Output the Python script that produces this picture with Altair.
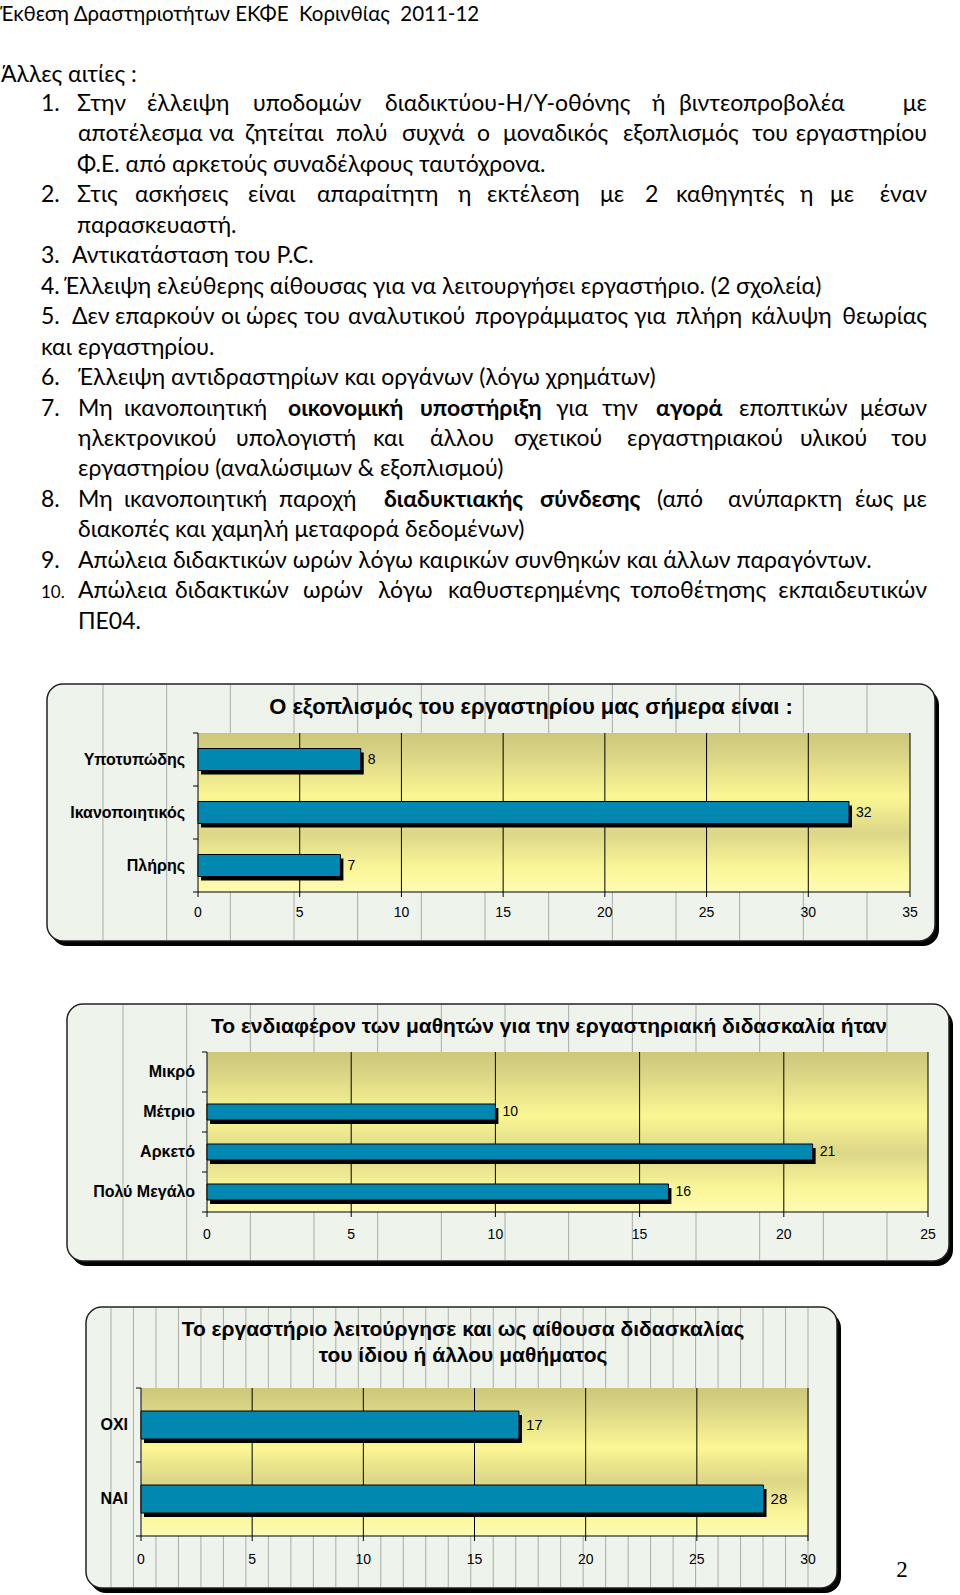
import altair as alt
import pandas as pd

W, H = 960, 1595

# ---------------- data ----------------
header_text = "Έκθεση Δραστηριοτήτων ΕΚΦΕ\u00a0 Κορινθίας\u00a0 2011-12"

doc_numbers = ["", "1.", "", "", "2.", "", "3.", "4.", "5.", "", "6.", "7.", "", "", "8.", "", "9.", "10.", ""]
doc_lines = [
    "Άλλες αιτίες :",
    "Στην έλλειψη υποδομών διαδικτύου-Η/Υ-οθόνης ή βιντεοπροβολέα με",
    "αποτέλεσμα να ζητείται πολύ συχνά ο μοναδικός εξοπλισμός του εργαστηρίου",
    "Φ.Ε. από αρκετούς συναδέλφους ταυτόχρονα.",
    "Στις ασκήσεις είναι απαραίτητη η εκτέλεση με 2 καθηγητές η με έναν",
    "παρασκευαστή.",
    "Αντικατάσταση του P.C.",
    "Έλλειψη ελεύθερης αίθουσας για να λειτουργήσει εργαστήριο. (2 σχολεία)",
    "Δεν επαρκούν οι ώρες του αναλυτικού προγράμματος για πλήρη κάλυψη θεωρίας",
    "και εργαστηρίου.",
    "Έλλειψη αντιδραστηρίων και οργάνων (λόγω χρημάτων)",
    "Μη ικανοποιητική *οικονομική *υποστήριξη για την *αγορά εποπτικών μέσων",
    "ηλεκτρονικού υπολογιστή και άλλου σχετικού εργαστηριακού υλικού του",
    "εργαστηρίου (αναλώσιμων & εξοπλισμού)",
    "Μη ικανοποιητική παροχή *διαδυκτιακής *σύνδεσης (από ανύπαρκτη έως με",
    "διακοπές και χαμηλή μεταφορά δεδομένων)",
    "Απώλεια διδακτικών ωρών λόγω καιρικών συνθηκών και άλλων παραγόντων.",
    "Απώλεια διδακτικών ωρών λόγω καθυστερημένης τοποθέτησης εκπαιδευτικών",
    "ΠΕ04.",
]

c1_title = ["Ο εξοπλισμός του εργαστηρίου μας σήμερα είναι :"]
c1_cats = ["Υποτυπώδης", "Ικανοποιητικός", "Πλήρης"]
c1_vals = [8, 32, 7]
c1_ticks = [0, 5, 10, 15, 20, 25, 30, 35]

c2_title = ["Το ενδιαφέρον των μαθητών για την εργαστηριακή διδασκαλία ήταν"]
c2_cats = ["Μικρό", "Μέτριο", "Αρκετό", "Πολύ Μεγάλο"]
c2_vals = [None, 10, 21, 16]
c2_ticks = [0, 5, 10, 15, 20, 25]

c3_title = ["Το εργαστήριο λειτούργησε και ως αίθουσα διδασκαλίας", "του ίδιου ή άλλου μαθήματος"]
c3_cats = ["ΟΧΙ", "ΝΑΙ"]
c3_vals = [17, 28]
c3_ticks = [0, 5, 10, 15, 20, 25, 30]

page_number = "2"

# ---------------- layout / style ----------------
DOC_FONT = "Lato"
CH_FONT = "Liberation Sans"
DOC_SIZE = 23
RIGHT = 927
R = "R"
doc_x = [
    [1],
    [77, 147, 253, 385, 652, 679, R],
    [78, 209, 245, 336, 402, 477, 503, 623, 752, R],
    [77],
    [77, 135, 248, 317, 458, 487, 600, 645, 676, 800, 830, R],
    [77],
    [72],
    [64],
    [72, 115, 221, 246, 304, 348, 475, 634, 676, 751, R],
    [41],
    [78],
    [78, 124, 288, 420, 556, 602, 656, 739, R],
    [78, 236, 373, 430, 514, 627, 800, R],
    [78],
    [78, 124, 279, 384, 540, 657, 728, 855, R],
    [78],
    [78],
    [78, 175, 303, 378, 448, 630, R],
    [78],
]

BAR = "#0088b0"
FRAME_FILL = "#eef3ec"
TEX = "#a9ada6"
PLOT_GRAD = alt.LinearGradient(
    gradient="linear",
    stops=[
        alt.GradientStop(color="#cdc77a", offset=0),
        alt.GradientStop(color="#d8d284", offset=0.12),
        alt.GradientStop(color="#fbf793", offset=0.4),
        alt.GradientStop(color="#dcd687", offset=0.63),
        alt.GradientStop(color="#fbf799", offset=0.86),
        alt.GradientStop(color="#fdfbb4", offset=1),
    ],
    x1=0, x2=0, y1=0, y2=1,
)


def txt(s, x, y, size, font=DOC_FONT, bold=False, align="left", baseline="alphabetic", color="black"):
    return alt.Chart().mark_text(
        text=s, align=align, baseline=baseline, font=font, fontSize=size,
        fontWeight="bold" if bold else "normal", color=color,
    ).encode(x=alt.value(x), y=alt.value(y))


def hrule(x0, x1, y, color="black"):
    return alt.Chart().mark_rule(color=color, strokeWidth=1).encode(
        x=alt.value(x0), x2=alt.value(x1), y=alt.value(y))


def vrule(x, y0, y1, color="black"):
    return alt.Chart().mark_rule(color=color, strokeWidth=1).encode(
        x=alt.value(x), y=alt.value(y0), y2=alt.value(y1))


layers = []

# header
layers.append(txt(header_text, 0, 21, 20.5))

# document body
for i, (num, line) in enumerate(zip(doc_numbers, doc_lines)):
    yb = 82 if i == 0 else 111 + 30.45 * (i - 1)
    if num:
        layers.append(txt(num, 41, yb, 17 if len(num) > 2 else DOC_SIZE))
    xs = doc_x[i]
    if len(xs) == 1:
        layers.append(txt(line.replace("*", ""), xs[0], yb, DOC_SIZE))
    else:
        words = line.split(" ")
        for w, x in zip(words, xs):
            bold = w.startswith("*")
            w = w.lstrip("*")
            if x == R:
                layers.append(txt(w, RIGHT, yb, DOC_SIZE, bold=bold, align="right"))
            else:
                layers.append(txt(w, x, yb, DOC_SIZE, bold=bold))


def panel(cats, vals, ticks, title, frame, plot, bar_size, lab_size, title_size, title_x,
          title_y, xlab_y, lab_gap, tex, val_size=14, shadow=(4, 5)):
    fx0, fy0, fx1, fy1 = frame
    px0, py0, px1, py1 = plot
    out = []
    # frame shadow + frame
    out.append(alt.Chart().mark_rect(fill="black", cornerRadius=16).encode(
        x=alt.value(fx0 + shadow[0]), x2=alt.value(fx1 + shadow[0]),
        y=alt.value(fy0 + shadow[1]), y2=alt.value(fy1 + shadow[1])))
    out.append(alt.Chart().mark_rect(fill=FRAME_FILL, stroke="#222222", strokeWidth=1.5,
                                     cornerRadius=16).encode(
        x=alt.value(fx0), x2=alt.value(fx1), y=alt.value(fy0), y2=alt.value(fy1)))
    # paper texture lines
    t0, t1, tn = tex
    out.append(alt.Chart(pd.DataFrame({"i": list(range(tn))})).mark_rule(
        color=TEX, strokeWidth=1).encode(
        x=alt.X("i:Q", scale=alt.Scale(domain=[0, tn - 1], range=[t0, t1], nice=False, zero=False),
                axis=None),
        y=alt.value(fy0 + 1), y2=alt.value(fy1 - 1)))
    # title
    for k, tl in enumerate(title):
        out.append(txt(tl, title_x, title_y[k], title_size, font=CH_FONT, bold=True, align="center"))

    df = pd.DataFrame({"cat": cats, "v": vals})
    tdf = pd.DataFrame({"t": ticks})
    xsc = alt.Scale(domain=[ticks[0], ticks[-1]], range=[px0, px1], nice=False, zero=True)
    ysc = alt.Scale(domain=cats, range=[py0, py1], paddingInner=0, paddingOuter=0)

    bg = alt.Chart().mark_rect(fill=PLOT_GRAD).encode(
        x=alt.value(px0), x2=alt.value(px1), y=alt.value(py0), y2=alt.value(py1))
    grid = alt.Chart(pd.DataFrame({"t": ticks[1:]})).mark_rule(color="black", strokeWidth=1).encode(
        x=alt.X("t:Q", scale=xsc, axis=None), y=alt.value(py0), y2=alt.value(py1))
    # axis: ticks, labels, domain lines
    xticks = alt.Chart(tdf).mark_rule(color="black", strokeWidth=1).encode(
        x=alt.X("t:Q", scale=xsc, axis=None), y=alt.value(py1), y2=alt.value(py1 + 5))
    xlabels = alt.Chart(tdf).mark_text(align="center", baseline="middle", font=CH_FONT,
                                       fontSize=14, color="black").encode(
        x=alt.X("t:Q", scale=xsc, axis=None), y=alt.value(xlab_y), text=alt.Text("t:Q", format="d"))
    cat_ticks = alt.Chart(df).mark_rule(color="black", strokeWidth=1).encode(
        y=alt.Y("cat:N", scale=ysc, axis=None, bandPosition=0),
        x=alt.value(px0 - 5), x2=alt.value(px0))
    cat_labels = alt.Chart(df).mark_text(align="right", baseline="middle", font=CH_FONT,
                                         fontSize=lab_size, fontWeight="bold", color="black").encode(
        y=alt.Y("cat:N", scale=ysc, axis=None), x=alt.value(px0 - lab_gap), text="cat:N")
    valid = df[df["v"].notna()]
    shadow_bars = alt.Chart(valid).mark_bar(
        size=bar_size, color="black", xOffset=3, x2Offset=3, yOffset=4, y2Offset=4).encode(
        x=alt.X("v:Q", scale=xsc, axis=None), y=alt.Y("cat:N", scale=ysc, axis=None))
    bars = alt.Chart(valid).mark_bar(size=bar_size, color=BAR, stroke="black", strokeWidth=1).encode(
        x=alt.X("v:Q", scale=xsc, axis=None), y=alt.Y("cat:N", scale=ysc, axis=None))
    labels = alt.Chart(valid).mark_text(align="left", baseline="middle", dx=7, font=CH_FONT,
                                        fontSize=val_size, color="black").encode(
        x=alt.X("v:Q", scale=xsc, axis=None), y=alt.Y("cat:N", scale=ysc, axis=None),
        text=alt.Text("v:Q", format="d"))
    out.append(alt.layer(bg, grid, cat_ticks, xticks, xlabels, cat_labels,
                         hrule(px0 - 5, px0, py1), hrule(px0, px1, py1), vrule(px0, py0, py1),
                         shadow_bars, bars, labels))
    return out


layers += panel(c1_cats, c1_vals, c1_ticks, c1_title,
                frame=(47, 684, 935, 941), plot=(198, 733, 910, 892), bar_size=22,
                lab_size=16, title_size=22, title_x=531, title_y=[714], xlab_y=913, lab_gap=13,
                tex=(103, 867, 13))
layers += panel(c2_cats, c2_vals, c2_ticks, c2_title,
                frame=(67, 1004, 949, 1261), plot=(207, 1052, 928, 1212), bar_size=16,
                lab_size=16, title_size=21, title_x=549, title_y=[1033], xlab_y=1235, lab_gap=12,
                tex=(123, 887, 13))
layers += panel(c3_cats, c3_vals, c3_ticks, c3_title,
                frame=(86, 1307, 837, 1588), plot=(141, 1388, 808, 1536), bar_size=28,
                lab_size=16, title_size=21, title_x=463, title_y=[1336, 1362], xlab_y=1560,
                lab_gap=13, tex=(111, 808, 32), val_size=15)

layers.append(txt(page_number, 902, 1577, 23, font="Liberation Serif", align="center"))

chart = alt.layer(*layers, data=alt.InlineData(values=[{"a": 0}])).resolve_scale(
    x="independent", y="independent"
).properties(
    width=W, height=H, padding=0, autosize=alt.AutoSizeParams(type="none"),
    background="white",
).configure_view(stroke=None)

chart.save("out.html", embed_options={"renderer": "svg", "actions": False})
